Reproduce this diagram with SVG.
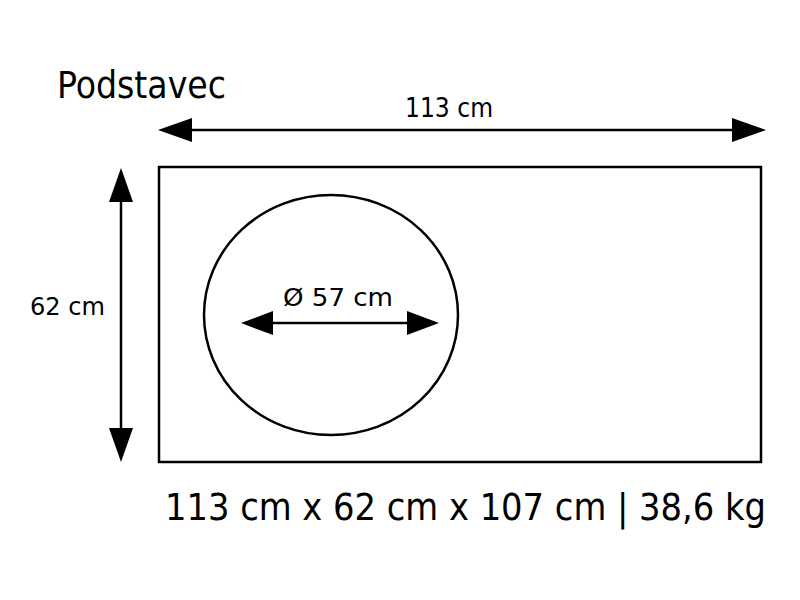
<svg xmlns="http://www.w3.org/2000/svg" width="800" height="600" viewBox="0 0 800 600">
<defs>
<style>
text{font-family:"DejaVu Sans Condensed","DejaVu Sans","Liberation Sans",sans-serif;font-stretch:condensed;fill:#000}
.ln{stroke:#000;stroke-width:2.5;fill:none}
.ah{fill:#000}
</style>
</defs>
<rect width="800" height="600" fill="#fff"/>
<g id="title"><text x="57" y="98" font-size="37" textLength="169" lengthAdjust="spacingAndGlyphs">Podstavec</text></g>
<g id="board"><rect x="159" y="167" width="602" height="295" class="ln"/></g>
<g id="hole"><ellipse cx="331" cy="315" rx="127" ry="120" class="ln"/></g>
<g id="connectors">
<line x1="185" y1="130" x2="740" y2="130" class="ln"/>
<polygon class="ah" points="158,130 192,118 192,142"/>
<polygon class="ah" points="766,130 732,118 732,142"/>
<line x1="121" y1="195" x2="121" y2="436" class="ln"/>
<polygon class="ah" points="121,168 109,202 133,202"/>
<polygon class="ah" points="121,462 109,428 133,428"/>
<line x1="265" y1="323" x2="415" y2="323" class="ln"/>
<polygon class="ah" points="241,323 273,311 273,335"/>
<polygon class="ah" points="439,323 407,311 407,335"/>
</g>
<g id="labels">
<text x="405" y="117" font-size="26" textLength="88" lengthAdjust="spacingAndGlyphs">113 cm</text>
<text x="30" y="315" font-size="25" textLength="75" lengthAdjust="spacingAndGlyphs">62 cm</text>
<text x="283" y="306" font-size="24" textLength="110" lengthAdjust="spacingAndGlyphs">Ø 57 cm</text>
<text x="165" y="520" font-size="38" textLength="601" lengthAdjust="spacingAndGlyphs">113 cm x 62 cm x 107 cm | 38,6 kg</text>
</g>
</svg>
